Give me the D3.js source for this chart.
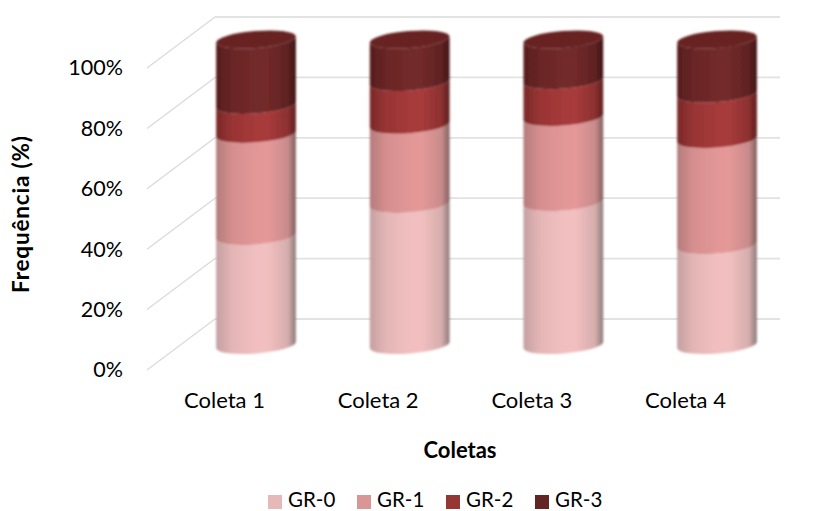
<!DOCTYPE html>
<html><head><meta charset="utf-8">
<script src="https://cdn.jsdelivr.net/npm/d3@7/dist/d3.min.js"></script>
<style>html,body{margin:0;background:#fff}svg{display:block}text{font-family:Lato,"Open Sans",sans-serif;fill:#000}</style>
</head><body><script>
const coletas = ["Coleta 1","Coleta 2","Coleta 3","Coleta 4"];
const grupos = ["GR-0","GR-1","GR-2","GR-3"];
const gr0 = [35.7,46.2,46.8,32.7];
const gr1 = [33.4,25.9,27.8,34.7];
const gr2 = [9.5,14,12.1,14.9];
const gr3 = [21.4,13.9,13.3,17.7];
const pct = [0,20,40,60,80,100];
const shades = [
  ["#c4a0a1","#e4b5b5","#f1bfbf","#f2bfbf","#d6adad","#8d7a7a"],
  ["#b47c7c","#d68e8e","#e29797","#e59898","#c98b8b","#7f5f5f"],
  ["#7a2929","#983434","#a63a3a","#a83b3b","#8c3030","#5c2020"],
  ["#561d1d","#6a2525","#722a2a","#722929","#5f2222","#3f1515"]
];
const swatches = ["#e6b9b8","#da9694","#953735","#632523"];

const W = 821, H = 511;
const svg = d3.select("body").append("svg").attr("width",W).attr("height",H);
const defs = svg.append("defs");
shades.forEach((stops,i)=>{
  const g = defs.append("linearGradient").attr("id","band"+i);
  const off = [0,0.2,0.5,0.65,0.9,1];
  stops.forEach((c,j)=>g.append("stop").attr("offset",off[j]).attr("stop-color",c));
});
defs.append("filter").attr("id","soft").attr("x","-5%").attr("width","110%")
  .append("feGaussianBlur").attr("stdDeviation",0.9);

// Value axis on the front edge, back wall offset up and to the right
const yFront = d3.scaleLinear().domain([0,100]).range([370,68]);
const wallDx = 68, wallDy = -51, wallRight = 780;
const grid = svg.append("g");
pct.forEach(p=>{
  const y = yFront(p);
  grid.append("line").attr("x1",147).attr("y1",y).attr("x2",147+wallDx).attr("y2",y+wallDy)
    .attr("stroke","#d9d9d9").attr("stroke-width",1.2);
  grid.append("line").attr("x1",147+wallDx).attr("y1",y+wallDy).attr("x2",wallRight).attr("y2",y+wallDy)
    .attr("stroke","#e2e2e2").attr("stroke-width",1.8);
});
const yAxis = d3.axisLeft(yFront).tickValues(pct).tickFormat(d=>d+"%").tickSize(0).tickPadding(0);
const yg = svg.append("g").attr("transform","translate(123,0)").call(yAxis);
yg.select(".domain").remove();
yg.selectAll("text").attr("font-size",21.5).attr("font-family","Lato");

// Cylinders
const xCenter = d3.scalePoint().domain(coletas).range([256,717]);
const yCyl = d3.scaleLinear().domain([0,100]).range([345,39.5]);
const rx = 40, ry = 8.5, deg = -4.5, tilt = -deg*Math.PI/180;
const table = coletas.map((c,i)=>({c,"GR-0":gr0[i],"GR-1":gr1[i],"GR-2":gr2[i],"GR-3":gr3[i]}));
const series = d3.stack().keys(grupos)(table);
const ex = rx*Math.cos(tilt), ey = rx*Math.sin(tilt);
const bars = svg.append("g").attr("filter","url(#soft)");
series.forEach((s,i)=>{
  s.forEach(d=>{
    const cx = xCenter(d.data.c), y0 = yCyl(d[0]), y1 = yCyl(d[1]);
    bars.append("path").attr("fill",`url(#band${i})`).attr("d",
      `M${cx-ex},${y0+ey} A${rx},${ry} ${deg} 0 0 ${cx+ex},${y0-ey} L${cx+ex},${y1-ey} A${rx},${ry} ${deg} 0 1 ${cx-ex},${y1+ey} Z`);
    if(i===series.length-1){
      bars.append("ellipse").attr("rx",rx).attr("ry",ry)
        .attr("transform",`translate(${cx},${y1}) rotate(${deg})`).attr("fill","#682222");
    }
  });
});

// Category labels sit on the front of the floor
const xLabel = d3.scalePoint().domain(coletas).range([224,685]);
const xAxis = d3.axisBottom(xLabel).tickSize(0).tickPadding(0);
const xg = svg.append("g").attr("transform","translate(0,393)").call(xAxis);
xg.select(".domain").remove();
xg.selectAll("text").attr("font-size",22).attr("font-family","Lato").attr("dy","0.7em");

svg.append("text").attr("x",460).attr("y",458).attr("text-anchor","middle")
  .attr("font-size",22).attr("font-weight",700).text("Coletas");
svg.append("text").attr("transform","translate(29,214.5) rotate(-90)").attr("text-anchor","middle")
  .attr("font-size",22.5).attr("font-weight",700).attr("textLength",157).text("Frequência (%)");

// Legend
const legX = d3.scaleOrdinal().domain(grupos).range([268,357,446,535]);
grupos.forEach((g,i)=>{
  svg.append("rect").attr("x",legX(g)).attr("y",495).attr("width",14).attr("height",14).attr("fill",swatches[i]);
  svg.append("text").attr("x",legX(g)+20).attr("y",506.5).attr("font-size",20.5).text(g);
});
</script></body></html>
